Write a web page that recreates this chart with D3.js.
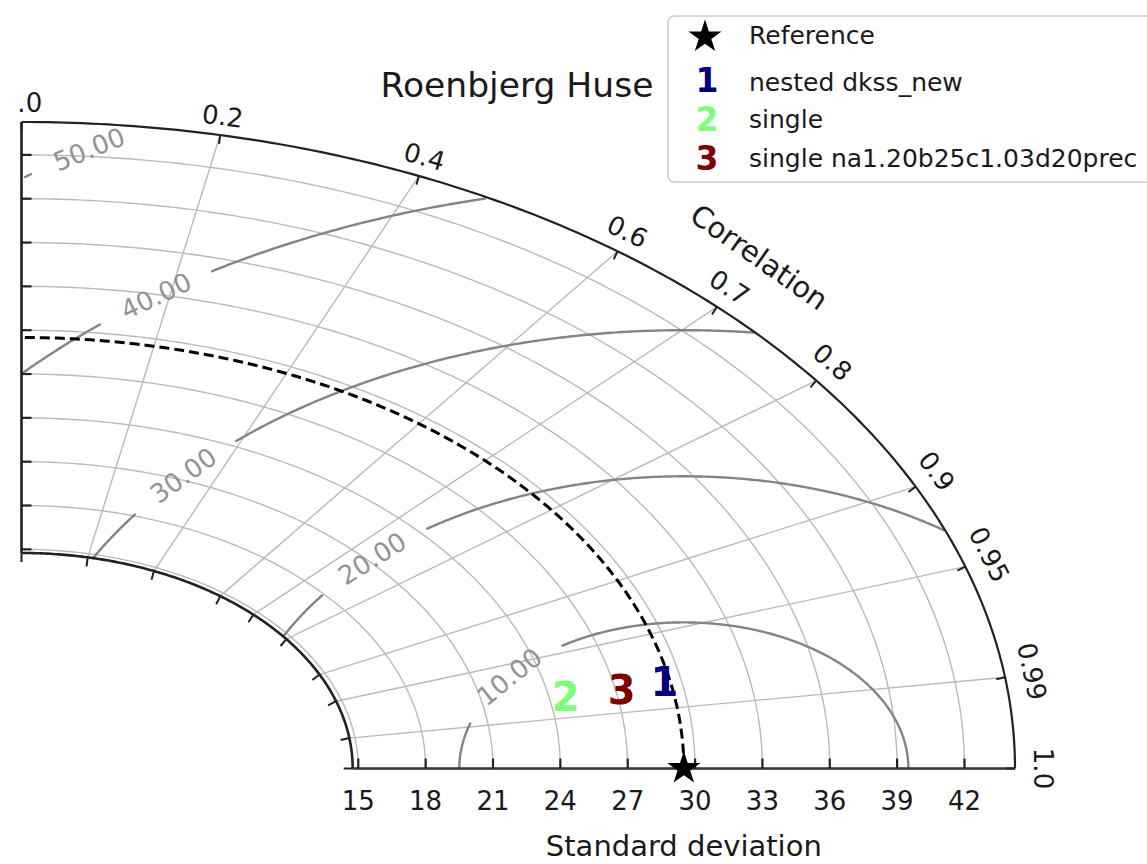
<!DOCTYPE html>
<html>
<head>
<meta charset="utf-8">
<script src="https://cdn.jsdelivr.net/npm/d3@7"></script>
<style>
  body { margin: 0; background: #fff; }
  svg text { font-family: "DejaVu Sans", sans-serif; }
</style>
</head>
<body>
<div id="canvas"></div>
<script>
// chart data
var title = "Roenbjerg Huse";
var refStd = 29.5;
var refLabel = "Reference";
var modelNames = ["nested dkss_new", "single", "single na1.20b25c1.03d20prec"];
var modelMarks = ["1", "2", "3"];
var modelStd = [29.25, 24.73, 27.28];
var modelCorr = [0.979, 0.980, 0.980];
var modelColors = ["#000080", "#7dff7a", "#800000"];
var stdTicks = [15, 18, 21, 24, 27, 30, 33, 36, 39, 42];
var corrTicks = [0, 0.2, 0.4, 0.6, 0.7, 0.8, 0.9, 0.95, 0.99, 1];
var corrLabels = ["0.0", "0.2", "0.4", "0.6", "0.7", "0.8", "0.9", "0.95", "0.99", "1.0"];
var rmsLevels = [10, 20, 30, 40, 50];
var rmsLabelAngle = [141, 134, 138, 126, 122]; // degrees, around the reference point

var width = 1147, height = 864;
var smin = 0.5 * refStd, smax = 1.5 * refStd;

var svg = d3.select("#canvas").append("svg")
  .attr("width", width)
  .attr("height", height);

// the axes are not equal aspect in the picture
var sx = d3.scaleLinear().domain([0, smax]).range([21.5, 1015]);
var sy = d3.scaleLinear().domain([0, smax]).range([768.5, 122]);
var kx = sx(1) - sx(0), ky = sy(0) - sy(1);
var rad = Math.PI / 180;

function pt(r, th) { return [sx(r * Math.cos(th)), sy(r * Math.sin(th))]; }
// outward normal of a std arc, in screen space
function normal(th) {
  var nx = ky * Math.cos(th), ny = -kx * Math.sin(th);
  var l = Math.sqrt(nx * nx + ny * ny);
  return [nx / l, ny / l];
}
function tangentAngle(th) {
  return Math.atan2(ky * Math.cos(th), kx * Math.sin(th)) / rad;
}

var line = d3.line();
var degs = d3.range(0, 90.01, 0.5);
function arcPath(r) {
  return line(degs.map(function(d) { return pt(r, d * rad); }));
}

svg.append("defs").append("clipPath").attr("id", "crop")
  .append("rect").attr("x", 17).attr("y", 0).attr("width", width).attr("height", height);

var g = svg.append("g").attr("clip-path", "url(#crop)");

// grid: std arcs
g.selectAll(".grid-arc")
  .data(stdTicks)
  .enter().append("path")
    .attr("class", "grid-arc")
    .attr("d", function(d) { return arcPath(d); })
    .attr("fill", "none")
    .attr("stroke", "#bababa")
    .attr("stroke-width", 1.4);

// grid: correlation rays
g.selectAll(".grid-ray")
  .data(corrTicks.filter(function(c) { return c > 0 && c < 1; }))
  .enter().append("path")
    .attr("class", "grid-ray")
    .attr("d", function(c) {
      var th = Math.acos(c);
      return line([pt(smin, th), pt(smax, th)]);
    })
    .attr("stroke", "#bababa")
    .attr("stroke-width", 1.4);

// centered RMS contours around the reference point
rmsLevels.forEach(function(L, i) {
  var pts = [];
  d3.range(0, 180.01, 0.25).forEach(function(p) {
    var x = refStd + L * Math.cos(p * rad), y = L * Math.sin(p * rad);
    var r = Math.sqrt(x * x + y * y);
    if (x >= 0 && r >= smin && r <= smax) pts.push([sx(x), sy(y)]);
    else pts.push(null);
  });
  var pl = rmsLabelAngle[i] * rad;
  var P = [sx(refStd + L * Math.cos(pl)), sy(L * Math.sin(pl))];
  var gap = 60;

  // split the contour where the label sits
  var segs = [], cur = [];
  pts.forEach(function(q) {
    var keep = q && Math.hypot(q[0] - P[0], q[1] - P[1]) > gap;
    if (keep) cur.push(q);
    else if (cur.length) { segs.push(cur); cur = []; }
  });
  if (cur.length) segs.push(cur);

  g.selectAll(".rms" + i)
    .data(segs)
    .enter().append("path")
      .attr("class", "rms" + i)
      .attr("d", function(s) { return line(s); })
      .attr("fill", "none")
      .attr("stroke", "#848484")
      .attr("stroke-width", 2.4);

  var ang = Math.atan2(-ky * L * Math.cos(pl), -kx * L * Math.sin(pl)) / rad;
  if (ang > 90) ang -= 180;
  if (ang < -90) ang += 180;
  g.append("text")
    .attr("transform", "translate(" + P[0] + "," + P[1] + ") rotate(" + ang + ")")
    .attr("text-anchor", "middle")
    .attr("dy", "0.36em")
    .style("font-size", "26px")
    .style("fill", "#939393")
    .text(d3.format(".2f")(L));
});

// reference std arc
g.append("path")
  .attr("d", arcPath(refStd))
  .attr("fill", "none")
  .attr("stroke", "#000")
  .attr("stroke-width", 3)
  .attr("stroke-dasharray", "10,5");

// frame: inner and outer arcs, radial spines
g.append("path").attr("d", arcPath(smax))
  .attr("fill", "none").attr("stroke", "#222").attr("stroke-width", 2.2);
g.append("path").attr("d", arcPath(smin))
  .attr("fill", "none").attr("stroke", "#222").attr("stroke-width", 2.6);
g.append("path").attr("d", line([pt(smin, 0), pt(smax, 0)]))
  .attr("stroke", "#333").attr("stroke-width", 2.6);
g.append("path").attr("d", line([pt(smin, 90 * rad), pt(smax, 90 * rad)]))
  .attr("stroke", "#222").attr("stroke-width", 2.6);

// std ticks on both straight axes
g.selectAll(".btick")
  .data(stdTicks)
  .enter().append("line")
    .attr("x1", function(d) { return sx(d); })
    .attr("x2", function(d) { return sx(d); })
    .attr("y1", sy(0))
    .attr("y2", sy(0) - 10)
    .attr("stroke", "#222")
    .attr("stroke-width", 2.2);

g.selectAll(".ltick")
  .data(stdTicks)
  .enter().append("line")
    .attr("x1", sx(0))
    .attr("x2", sx(0) + 10)
    .attr("y1", function(d) { return sy(d); })
    .attr("y2", function(d) { return sy(d); })
    .attr("stroke", "#222")
    .attr("stroke-width", 2.2);

g.selectAll(".blabel")
  .data(stdTicks)
  .enter().append("text")
    .attr("x", function(d) { return sx(d); })
    .attr("y", 810)
    .attr("text-anchor", "middle")
    .style("font-size", "26px")
    .style("fill", "#1a1a1a")
    .text(function(d) { return d; });

g.append("text")
  .attr("x", (sx(smin) + sx(smax)) / 2)
  .attr("y", 856)
  .attr("text-anchor", "middle")
  .style("font-size", "29px")
  .style("fill", "#1a1a1a")
  .text("Standard deviation");

// correlation ticks on the outer and inner arcs
[smax, smin].forEach(function(r) {
  g.selectAll(null)
    .data(corrTicks)
    .enter().append("line")
      .each(function(c) {
        var th = Math.acos(c), q = pt(r, th), n = normal(th);
        d3.select(this)
          .attr("x1", q[0]).attr("y1", q[1])
          .attr("x2", q[0] - n[0] * 9).attr("y2", q[1] - n[1] * 9);
      })
      .attr("stroke", "#222")
      .attr("stroke-width", 2);
});

g.selectAll(".clabel")
  .data(corrTicks)
  .enter().append("text")
    .attr("transform", function(c) {
      var th = Math.acos(c), q = pt(smax, th), n = normal(th);
      var off = 19 + 9 * c * c;
      return "translate(" + (q[0] + n[0] * off) + "," + (q[1] + n[1] * off) + ") rotate(" + tangentAngle(th) + ")";
    })
    .attr("text-anchor", "middle")
    .attr("dy", "0.36em")
    .style("font-size", "26px")
    .style("fill", "#1a1a1a")
    .text(function(c, i) { return corrLabels[i]; });

(function() {
  var th = 45 * rad, q = pt(smax, th), n = normal(th);
  g.append("text")
    .attr("transform", "translate(" + (q[0] + n[0] * 65) + "," + (q[1] + n[1] * 65) + ") rotate(" + (tangentAngle(th) + 2) + ")")
    .attr("text-anchor", "middle")
    .attr("dy", "0.36em")
    .style("font-size", "29px")
    .style("fill", "#1a1a1a")
    .text("Correlation");
})();

// models
g.selectAll(".model")
  .data(modelStd)
  .enter().append("text")
    .attr("class", "model")
    .attr("transform", function(s, i) {
      var p = pt(s, Math.acos(modelCorr[i]));
      return "translate(" + p[0] + "," + p[1] + ")";
    })
    .attr("text-anchor", "middle")
    .attr("dy", "0.36em")
    .style("font-size", "40px")
    .style("font-weight", "bold")
    .style("fill", function(s, i) { return modelColors[i]; })
    .text(function(s, i) { return modelMarks[i]; });

var star = d3.symbol().type(d3.symbolStar).size(340);
g.append("path")
  .attr("d", star())
  .attr("transform", "translate(" + sx(refStd) + "," + sy(0) + ")")
  .attr("fill", "#000");

// title
svg.append("text")
  .attr("x", 517)
  .attr("y", 97)
  .attr("text-anchor", "middle")
  .style("font-size", "34.5px")
  .style("fill", "#1a1a1a")
  .text(title);

// legend
var legend = svg.append("g").attr("transform", "translate(668,16)");
legend.append("rect")
  .attr("width", 520)
  .attr("height", 166)
  .attr("rx", 6)
  .attr("fill", "#fff")
  .attr("fill-opacity", 0.85)
  .attr("stroke", "#cccccc")
  .attr("stroke-width", 1.5);

var rowsY = [21, 64, 103, 142];
legend.append("path")
  .attr("d", star())
  .attr("transform", "translate(37," + rowsY[0] + ")")
  .attr("fill", "#000");
legend.append("text")
  .attr("x", 81).attr("y", rowsY[0] - 2).attr("dy", "0.36em")
  .style("font-size", "25px").style("fill", "#1a1a1a")
  .text(refLabel);

modelNames.forEach(function(name, i) {
  var y = rowsY[i + 1];
  legend.append("text")
    .attr("x", 39).attr("y", y).attr("dy", "0.36em")
    .attr("text-anchor", "middle")
    .style("font-size", "33px").style("font-weight", "bold")
    .style("fill", modelColors[i])
    .text(modelMarks[i]);
  legend.append("text")
    .attr("x", 81).attr("y", y + (i === 0 ? 2 : 0)).attr("dy", "0.36em")
    .style("font-size", "25px").style("fill", "#1a1a1a")
    .text(name);
});
</script>
</body>
</html>
